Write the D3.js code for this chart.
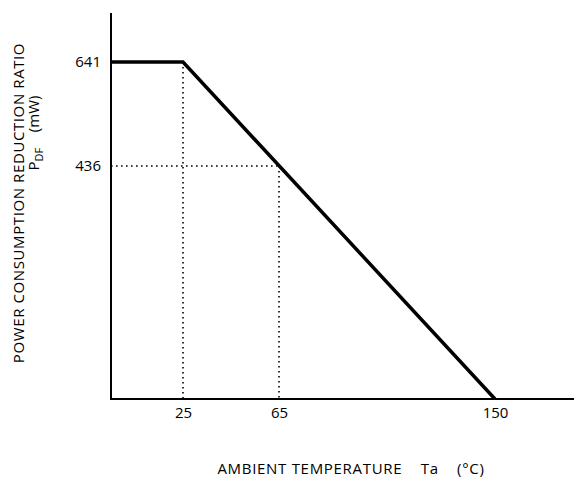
<!DOCTYPE html>
<html lang="en">
  <head>
    <meta charset="UTF-8" />
    <title>Power derating</title>
    <script src="https://d3js.org/d3.v7.min.js"></script>
    <style>
      body { margin: 0; background: #fff; }
      svg text { font-family: 'Open Sans', 'Noto Sans', sans-serif; fill: #000; }
    </style>
  </head>
  <body>
    <svg id="chart"></svg>
    <script>
      let width = 574
      let height = 478

      // derating curve
      let temps = [0, 25, 150]
      let power = [641, 641, 0]

      // dotted guide points
      let guideTemps = [25, 65]
      let guidePower = [641, 436]

      let xTicks = [25, 65, 150]
      let yTicks = [641, 436]

      // the drawing is not to scale, so the scales are piecewise
      let x = d3.scaleLinear()
        .domain([0, 25, 65, 150, 195])
        .range([111, 183, 279, 495, 574])
      let y = d3.scaleLinear()
        .domain([0, 436, 641, 735])
        .range([399, 166, 62, 13])

      let svg = d3.select('#chart')
        .attr('width', width)
        .attr('height', height)

      // dotted guides
      guideTemps.forEach((t, i) => {
        svg.append('line')
          .attr('x1', x(t)).attr('x2', x(t))
          .attr('y1', y(guidePower[i])).attr('y2', y(0))
          .attr('stroke', '#000').attr('stroke-width', 1.6)
          .attr('stroke-dasharray', '1.6,3.4')
      })
      svg.append('line')
        .attr('x1', x(0)).attr('x2', x(guideTemps[1]))
        .attr('y1', y(guidePower[1])).attr('y2', y(guidePower[1]))
        .attr('stroke', '#000').attr('stroke-width', 1.6)
        .attr('stroke-dasharray', '1.6,3.4')

      // axes
      let xAxis = svg.append('g')
        .attr('transform', `translate(0,${y(0)})`)
        .call(d3.axisBottom(x).tickValues(xTicks).tickSize(0).tickPadding(8))
      xAxis.select('.domain').attr('stroke-width', 2).attr('d', `M${x(0)},0H${width}`)
      xAxis.selectAll('text').style('font-size', '15px')

      let yAxis = svg.append('g')
        .attr('transform', `translate(${x(0)},0)`)
        .call(d3.axisLeft(y).tickValues(yTicks).tickSize(0).tickPadding(10))
      yAxis.select('.domain').attr('stroke-width', 2).attr('d', `M0,${y(735)}V${y(0) + 1}`)
      yAxis.selectAll('text').style('font-size', '15px')

      // derating line
      let line = d3.line()
        .x((d, i) => x(temps[i]))
        .y(d => y(d))
      svg.append('path')
        .datum(power)
        .attr('d', line)
        .attr('fill', 'none')
        .attr('stroke', '#000')
        .attr('stroke-width', 3.5)
        .attr('stroke-linejoin', 'miter')

      // axis titles
      let xt = svg.append('text')
        .attr('x', 351).attr('y', 474)
        .attr('text-anchor', 'middle')
        .style('font-size', '15px')
        .style('letter-spacing', '0.7px')
        .attr('xml:space', 'preserve')
      xt.text('AMBIENT TEMPERATURE    Ta    (°C)')

      let yt = svg.append('g').attr('transform', 'translate(24,203) rotate(-90)')
      yt.append('text')
        .attr('text-anchor', 'middle')
        .style('font-size', '15px')
        .style('letter-spacing', '0.6px')
        .text('POWER CONSUMPTION REDUCTION RATIO')
      let sub = yt.append('text')
        .attr('x', 70).attr('y', 15)
        .attr('text-anchor', 'middle')
        .style('font-size', '15px')
        .attr('xml:space', 'preserve')
      sub.append('tspan').text('P')
      sub.append('tspan').attr('dy', 4).style('font-size', '11px').text('DF')
      sub.append('tspan').attr('dy', -4).text('    (mW)')
    </script>
  </body>
</html>
